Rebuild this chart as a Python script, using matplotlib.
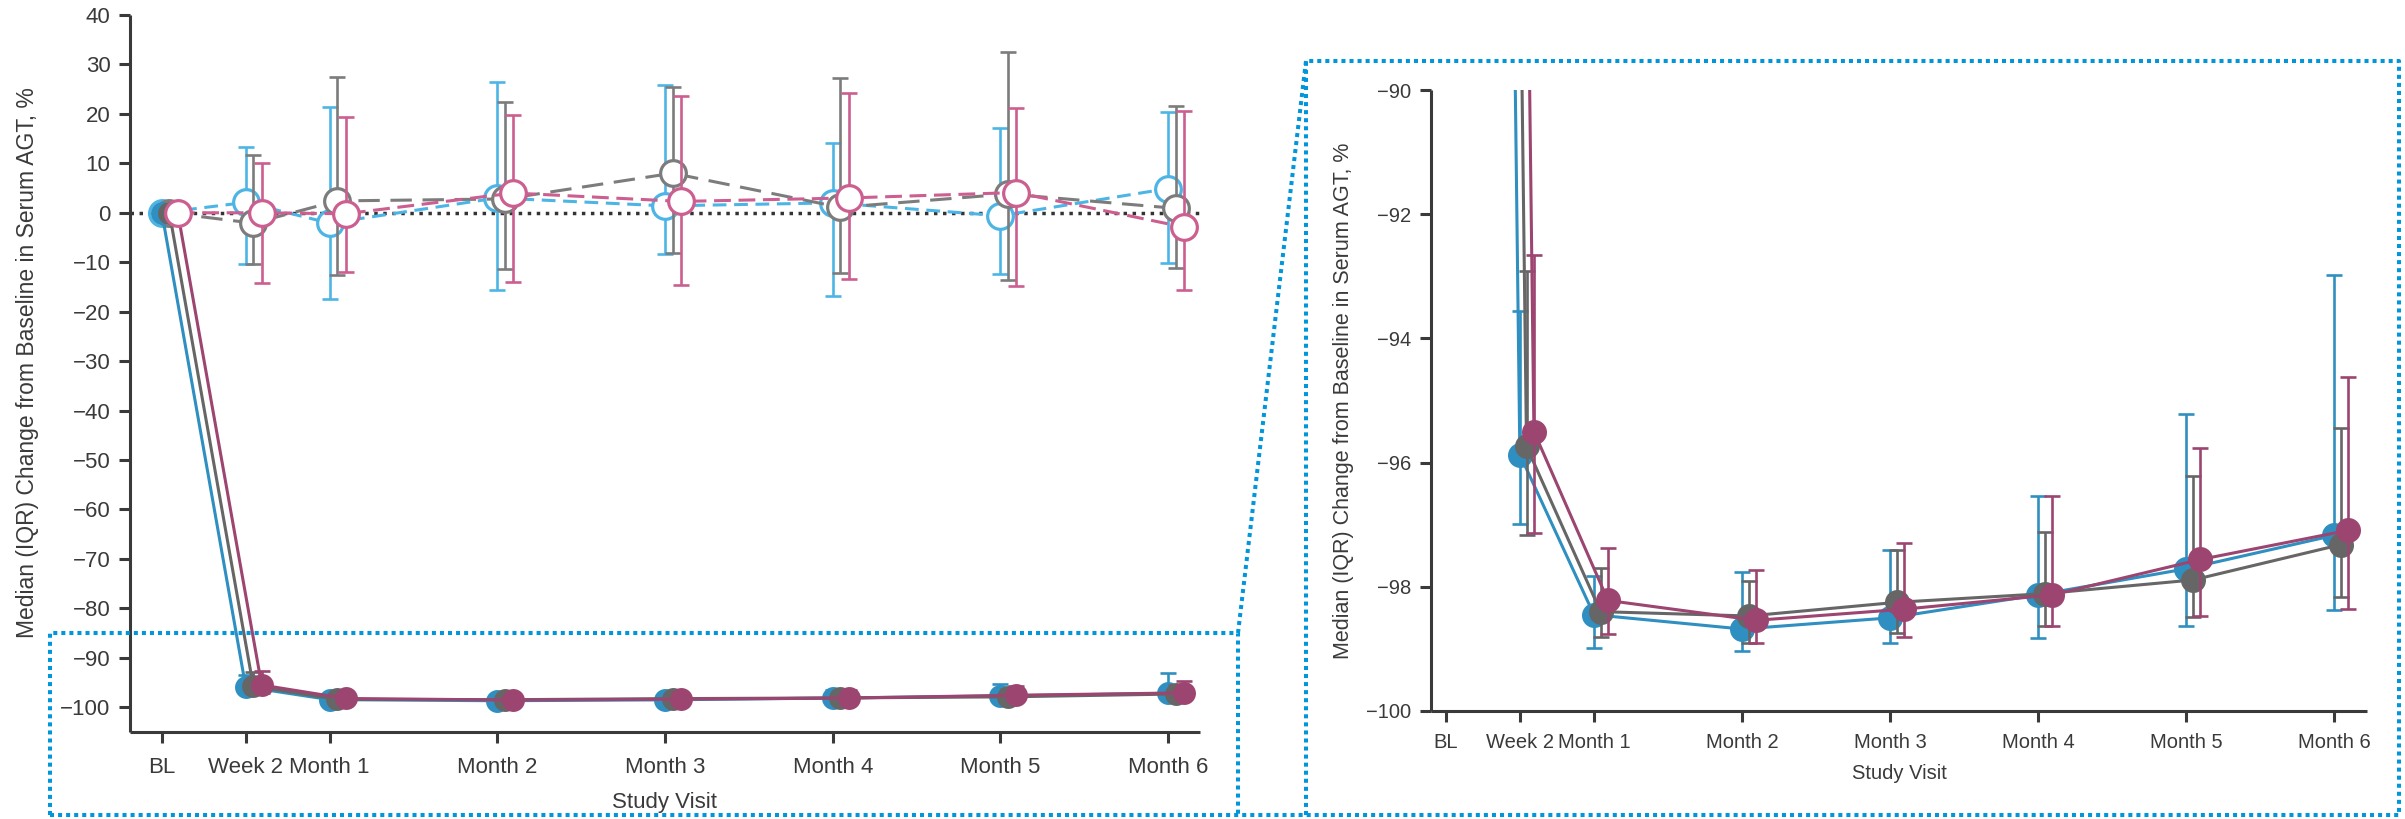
import numpy as np
import matplotlib
matplotlib.use("Agg")
import matplotlib.pyplot as plt
from matplotlib.lines import Line2D

plt.rcParams['font.family'] = ['Liberation Sans', 'DejaVu Sans']

# ---------------- data ----------------
visits = ["BL", "Week 2", "Month 1", "Month 2", "Month 3", "Month 4", "Month 5", "Month 6"]
visit_x = [0, 0.5, 1, 2, 3, 4, 5, 6]
nan = np.nan

# open-circle (dashed) groups, near zero
lb_open_med = [0, 2.1, -2.1, 3.0, 1.4, 2.0, -0.6, 4.9]
lb_open_q1 = [nan, -10.4, -17.4, -15.6, -8.3, -16.8, -12.3, -10.1]
lb_open_q3 = [nan, 13.3, 21.3, 26.5, 25.9, 14.2, 17.2, 20.3]

gr_open_med = [0, -2.1, 2.4, 2.8, 8.0, 1.1, 3.8, 0.9]
gr_open_q1 = [nan, -10.4, -12.5, -11.3, -8.1, -12.1, -13.5, -11.2]
gr_open_q3 = [nan, 11.6, 27.4, 22.4, 25.5, 27.2, 32.6, 21.5]

pk_open_med = [0, 0.0, -0.2, 4.0, 2.3, 3.0, 4.1, -2.9]
pk_open_q1 = [nan, -14.1, -12.0, -14.0, -14.6, -13.3, -14.9, -15.6]
pk_open_q3 = [nan, 10.1, 19.4, 19.7, 23.7, 24.2, 21.2, 20.5]

# filled-circle (solid) groups
bl_fill_med = [0, -95.87, -98.45, -98.68, -98.50, -98.13, -97.71, -97.17]
bl_fill_q1 = [nan, -96.99, -98.99, -99.03, -98.91, -98.83, -98.63, -98.38]
bl_fill_q3 = [nan, -93.56, -97.82, -97.76, -97.41, -96.53, -95.21, -92.98]

gy_fill_med = [0, -95.74, -98.40, -98.47, -98.25, -98.11, -97.89, -97.32]
gy_fill_q1 = [nan, -97.17, -98.81, -98.90, -98.74, -98.63, -98.49, -98.17]
gy_fill_q3 = [nan, -92.91, -97.69, -97.91, -97.41, -97.12, -96.22, -95.45]

mr_fill_med = [0, -95.50, -98.22, -98.54, -98.36, -98.13, -97.56, -97.09]
mr_fill_q1 = [nan, -97.14, -98.76, -98.90, -98.81, -98.63, -98.47, -98.35]
mr_fill_q3 = [nan, -92.65, -97.37, -97.73, -97.30, -96.53, -95.77, -94.62]

# ---------------- style ----------------
C_LB_OPEN = "#4db5e5"
C_GR_OPEN = "#7c7c7c"
C_PK_OPEN = "#cc5e90"
C_BL_FILL = "#2f8fc0"
C_GY_FILL = "#666666"
C_MR_FILL = "#9c4570"
AX_COL = "#3a3a3a"
BOX_COL = "#0096dc"
OFFS = [0.0, 0.045, 0.095]

W, H = 2405, 819
fig = plt.figure(figsize=(W / 100, H / 100), dpi=100)

def px_axes(l, t, r, b):
    return fig.add_axes([l / W, 1 - b / H, (r - l) / W, (b - t) / H])

axL = px_axes(130, 15, 1200, 732)
axR = px_axes(1431, 90, 2367, 711)


def series(ax, off, med, q1, q3, color, z, filled, dashes=None, ms=17, lw=2.2):
    x = np.array(visit_x) + off
    med = np.array(med, float)
    q1 = np.array(q1, float)
    q3 = np.array(q3, float)
    m = ~np.isnan(q1)
    ax.errorbar(x[m], med[m], yerr=[med[m] - q1[m], q3[m] - med[m]], fmt='none',
                ecolor=color, elinewidth=1.9, capsize=5.5, capthick=1.9, zorder=z)
    kw = dict(color=color, lw=lw, marker='o', ms=ms, zorder=z + 0.5)
    if filled:
        kw.update(mfc=color, mec=color, mew=0)
    else:
        kw.update(mfc='white', mec=color, mew=2.3)
    ln, = ax.plot(x, med, **kw)
    if dashes is not None:
        ln.set_dashes(dashes)
        ln.set_dash_capstyle('butt')


# ---------------- left panel ----------------
axL.axhline(0, color="#333333", lw=2.5, ls=(0, (1, 1.6)), zorder=1)
series(axL, OFFS[0], lb_open_med, lb_open_q1, lb_open_q3, C_LB_OPEN, 3, False, dashes=(4.5, 2.5), ms=18.5)
series(axL, OFFS[1], gr_open_med, gr_open_q1, gr_open_q3, C_GR_OPEN, 4, False, dashes=(7, 3.5), ms=18.5)
series(axL, OFFS[0], bl_fill_med, bl_fill_q1, bl_fill_q3, C_BL_FILL, 5, True, ms=16.5)
series(axL, OFFS[1], gy_fill_med, gy_fill_q1, gy_fill_q3, C_GY_FILL, 6, True, ms=16.5)
series(axL, OFFS[2], mr_fill_med, mr_fill_q1, mr_fill_q3, C_MR_FILL, 7, True, ms=16.5)
series(axL, OFFS[2], pk_open_med, pk_open_q1, pk_open_q3, C_PK_OPEN, 8, False, dashes=(5.5, 2.5), ms=18.5)

axL.set_xlim(-0.19, 6.19)
axL.set_ylim(-105, 40)
axL.set_yticks(np.arange(-100, 41, 10))
axL.set_yticklabels([f"{v}".replace("-", "\u2212") for v in range(-100, 41, 10)])
axL.set_xticks(visit_x)
axL.set_xticklabels(visits)
axL.set_xlabel("Study Visit", fontsize=16, color=AX_COL)
axL.set_ylabel("Median (IQR) Change from Baseline in Serum AGT, %", fontsize=16.5, color=AX_COL)
axL.yaxis.set_label_coords(-0.085, 0.515)
axL.xaxis.set_label_coords(0.5, -0.083)
axL.tick_params(labelsize=16, colors=AX_COL, length=8, width=2.2)
axL.tick_params(axis='y', pad=6)
axL.tick_params(axis='x', pad=10)

# ---------------- right panel ----------------
series(axR, OFFS[0], bl_fill_med, bl_fill_q1, bl_fill_q3, C_BL_FILL, 5, True, ms=18)
series(axR, OFFS[1], gy_fill_med, gy_fill_q1, gy_fill_q3, C_GY_FILL, 6, True, ms=18)
series(axR, OFFS[2], mr_fill_med, mr_fill_q1, mr_fill_q3, C_MR_FILL, 7, True, ms=18)

axR.set_xlim(-0.1, 6.22)
axR.set_ylim(-100, -90)
axR.set_yticks(np.arange(-100, -89, 2))
axR.set_yticklabels([f"{v}".replace("-", "\u2212") for v in range(-100, -89, 2)])
axR.set_xticks(visit_x)
axR.set_xticklabels(visits)
axR.set_xlabel("Study Visit", fontsize=14.5, color=AX_COL)
axR.set_ylabel("Median (IQR) Change from Baseline in Serum AGT, %", fontsize=15.5, color=AX_COL)
axR.yaxis.set_label_coords(-0.082, 0.5)
axR.xaxis.set_label_coords(0.5, -0.085)
axR.tick_params(labelsize=14.5, colors=AX_COL, length=8, width=2.2)
axR.tick_params(axis='y', pad=6)
axR.tick_params(axis='x', pad=8)

for ax in (axL, axR):
    for s in ("top", "right"):
        ax.spines[s].set_visible(False)
    for s in ("left", "bottom"):
        ax.spines[s].set_linewidth(2.2)
        ax.spines[s].set_color(AX_COL)
        ax.spines[s].set_capstyle('butt')

# ---------------- zoom call-out (dotted) ----------------
def fline(xs, ys):
    ln = Line2D([x / W for x in xs], [1 - y / H for y in ys], transform=fig.transFigure,
                color=BOX_COL, lw=2.9, ls=(0, (1, 1)), dash_capstyle='butt', zorder=20)
    fig.add_artist(ln)

fline([50, 50, 1238, 1238], [815, 633, 633, 815])          # small box
fline([1238, 1306], [633, 61])                              # connector
fline([1306, 1306, 2399, 2399], [815, 61, 61, 815])         # big box
fline([50, 2399], [815, 815])                               # shared bottom

fig.savefig("out.png", dpi=100)
